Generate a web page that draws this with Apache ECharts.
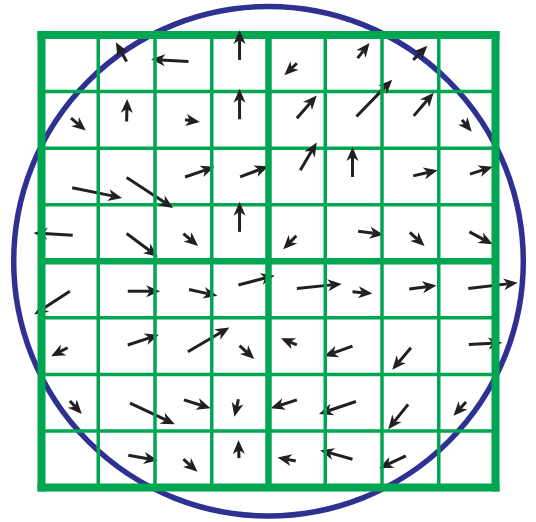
<!DOCTYPE html>
<html>
<head>
<meta charset="utf-8">
<script src="https://cdn.jsdelivr.net/npm/echarts@6/dist/echarts.min.js"></script>
<style>html,body{margin:0;padding:0;background:#fff;}#c{width:536px;height:522px;}</style>
</head>
<body>
<div id="c"></div>
<script>
// Grid: 8 x 8 cells, rows counted from the top
var gridLines = [0, 1, 2, 3, 4, 5, 6, 7, 8];
var thickLines = [0, 4, 8];
// Circle (center x, center y, radius) in cell units
var circle = [[4, 4, 4.49]];
// Arrow tails (cell units) and vector components
var tailX = [1.50, 2.59, 3.49, 0.52, 1.50, 2.53, 3.49, 2.53, 3.50, 0.54, 1.50, 0.55, 1.50, 2.50, 3.49,
             4.50, 5.57, 6.55, 4.50, 5.55, 6.56, 7.41, 4.56, 5.48, 6.55, 7.55, 4.49, 5.58, 6.49, 7.54,
             0.50, 1.52, 2.60, 3.47, 0.46, 1.52, 2.58, 3.49, 0.50, 1.56, 2.51, 3.47, 1.53, 2.50, 3.48,
             4.50, 5.48, 6.48, 7.52, 4.50, 5.48, 6.51, 7.53, 4.50, 5.54, 6.46, 7.48, 4.48, 5.48, 6.42];
var tailY = [0.47, 0.47, 0.44, 1.47, 1.53, 1.50, 1.49, 2.51, 2.51, 2.70, 2.52, 3.54, 3.51, 3.51, 3.48,
             0.50, 0.41, 0.44, 1.47, 1.44, 1.43, 1.50, 2.39, 2.51, 2.49, 2.46, 3.55, 3.47, 3.49, 3.48,
             4.53, 4.53, 4.50, 4.42, 5.53, 5.48, 5.60, 5.49, 6.47, 6.51, 6.45, 6.44, 7.43, 7.50, 7.48,
             4.48, 4.54, 4.49, 4.48, 5.48, 5.50, 5.53, 5.47, 6.45, 6.48, 6.53, 6.49, 7.53, 7.50, 7.44];
var vecU = [-0.19, -0.66, 0.00, 0.26, 0.01, 0.26, 0.00, 0.52, 0.50, 0.88, 0.82, -0.69, 0.55, 0.26, 0.00,
            -0.22, 0.21, 0.25, 0.35, 0.63, 0.35, 0.17, 0.29, 0.00, 0.43, 0.40, -0.23, 0.45, 0.26, 0.41,
            -0.63, 0.57, 0.50, 0.64, -0.29, 0.55, 0.73, 0.26, 0.21, 0.79, 0.47, -0.07, 0.52, 0.25, -0.01,
            0.79, 0.35, 0.48, 0.87, -0.28, -0.50, -0.33, 0.59, -0.46, -0.65, -0.35, -0.22, -0.32, -0.57, -0.47];
var vecV = [-0.34, -0.04, -0.53, 0.22, -0.40, 0.04, -0.54, -0.18, -0.19, 0.18, 0.54, -0.04, 0.41, 0.22, -0.53,
            0.21, -0.27, -0.25, -0.40, -0.65, -0.41, 0.21, -0.49, -0.53, -0.10, -0.13, 0.24, 0.06, 0.24, 0.22,
            0.41, 0.00, 0.11, -0.17, 0.15, -0.18, -0.43, 0.24, 0.23, 0.37, 0.15, 0.31, 0.09, 0.22, -0.32,
            -0.08, 0.03, -0.06, -0.10, -0.12, 0.18, 0.39, -0.03, 0.15, 0.22, 0.44, 0.24, -0.06, -0.16, 0.22];

var GREEN = '#00A651', BLUE = '#2E3192', INK = '#231F20';

var arrowData = tailX.map(function (x, i) { return [x, tailY[i], vecU[i], vecV[i]]; });
var lineData = gridLines.map(function (v) { return [v, thickLines.indexOf(v) >= 0 ? 1 : 0]; });

function gridLineSeries(vertical, z) {
  return {
    type: 'custom', z: z, data: lineData,
    renderItem: function (params, api) {
      var v = api.value(0), thick = api.value(1) === 1;
      var outer = (v === 0 || v === 8);
      var w = thick ? (outer ? 8 : 6.5) : 3.5;
      var a = vertical ? api.coord([v, 0]) : api.coord([0, v]);
      var b = vertical ? api.coord([v, 8]) : api.coord([8, v]);
      return {type: 'line', z2: thick ? 10 : 1,
        shape: {x1: a[0], y1: a[1], x2: b[0], y2: b[1]},
        style: {stroke: GREEN, lineWidth: w, lineCap: thick ? 'square' : 'butt'}};
    }
  };
}

var chart = echarts.init(document.getElementById('c'), null, {renderer: 'canvas'});
chart.setOption({
  animation: false,
  backgroundColor: '#ffffff',
  grid: {left: 41.5, right: 40.5, top: 35, bottom: 34.5},
  xAxis: {type: 'value', min: 0, max: 8, show: false},
  yAxis: {type: 'value', min: 0, max: 8, inverse: true, show: false},
  series: [
    {
      type: 'custom', z: 1, data: circle,
      renderItem: function (params, api) {
        var c = api.coord([api.value(0), api.value(1)]);
        var r = api.size([api.value(2), 0])[0];
        return {type: 'circle', shape: {cx: c[0], cy: c[1], r: r},
          style: {fill: null, stroke: BLUE, lineWidth: 5.5}};
      }
    },
    gridLineSeries(false, 2),
    {
      type: 'custom', z: 3, data: arrowData,
      renderItem: function (params, api) {
        var x = api.value(0), y = api.value(1);
        var p0 = api.coord([x, y]);
        var p1 = api.coord([x + api.value(2), y + api.value(3)]);
        var dx = p1[0] - p0[0], dy = p1[1] - p0[1];
        var L = Math.sqrt(dx * dx + dy * dy) || 1;
        var ux = dx / L, uy = dy / L, nx = -uy, ny = ux;
        var hl = 14, hw = 6, notch = 10;
        var bx = p1[0] - ux * hl, by = p1[1] - uy * hl;
        var mx = p1[0] - ux * notch, my = p1[1] - uy * notch;
        var children = [];
        if (L > notch) {
          children.push({type: 'line', shape: {x1: p0[0], y1: p0[1], x2: mx, y2: my},
            style: {stroke: INK, lineWidth: 3}});
        }
        children.push({type: 'polygon', shape: {points: [
          [p1[0], p1[1]], [bx + nx * hw, by + ny * hw], [mx, my], [bx - nx * hw, by - ny * hw]
        ]}, style: {fill: INK}});
        return {type: 'group', children: children};
      }
    },
    gridLineSeries(true, 4)
  ]
});
</script>
</body>
</html>
